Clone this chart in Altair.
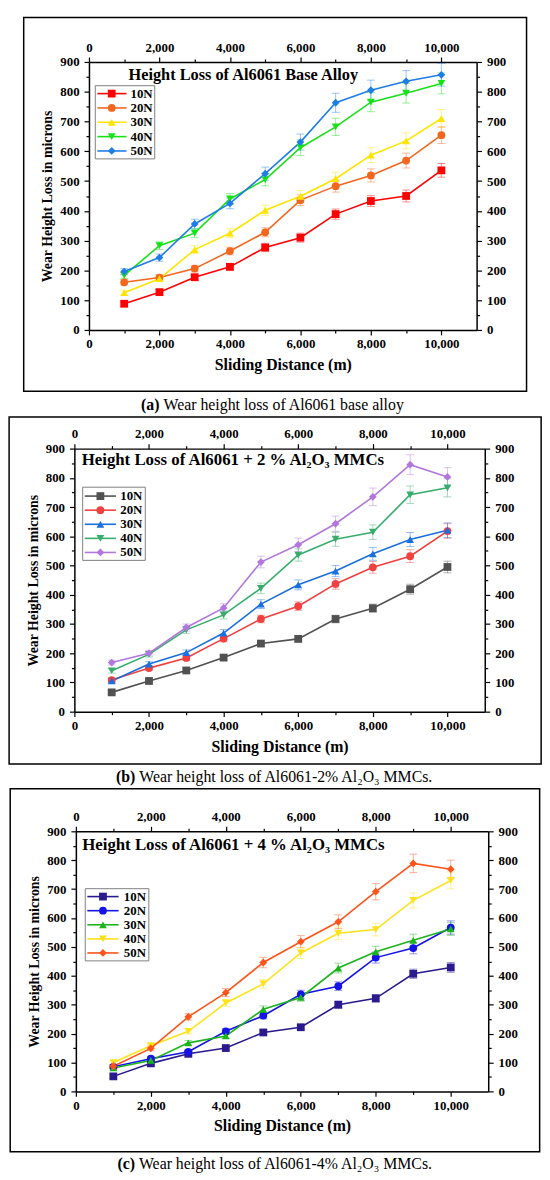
import altair as alt
import pandas as pd

FONT = "Liberation Serif"

dist = [1000, 2000, 3000, 4000, 5000, 6000, 7000, 8000, 9000, 10000]
loads = ["10N", "20N", "30N", "40N", "50N"]
shapes = ["square", "circle", "triangle-up", "triangle-down", "diamond"]

major_x = [0, 2000, 4000, 6000, 8000, 10000]
minor_x = [1000, 3000, 5000, 7000, 9000]
major_y = [0, 100, 200, 300, 400, 500, 600, 700, 800, 900]
minor_y = [50, 150, 250, 350, 450, 550, 650, 750, 850]

# (a) Base alloy
a_10 = [88, 127, 177, 212, 277, 310, 389, 433, 450, 536]
a_20 = [160, 176, 206, 265, 328, 436, 483, 519, 569, 654]
a_30 = [125, 172, 270, 325, 402, 449, 508, 587, 635, 710]
a_40 = [183, 283, 325, 440, 505, 612, 682, 765, 795, 828]
a_50 = [196, 243, 356, 425, 525, 631, 763, 805, 835, 857]
a_e10 = [8, 9, 10, 11, 14, 15, 17, 18, 20, 23]
a_e20 = [9, 10, 11, 13, 15, 18, 20, 22, 25, 28]
a_e30 = [8, 10, 13, 15, 17, 19, 22, 25, 27, 30]
a_e40 = [10, 13, 14, 18, 21, 26, 29, 32, 33, 35]
a_e50 = [10, 12, 16, 18, 22, 27, 32, 34, 36, 38]
a_colors = ["#FF0000", "#F2661E", "#FFE400", "#17E117", "#1F7DE6"]

# (b) 2 % Al2O3
b_10 = [66, 105, 141, 185, 233, 249, 317, 354, 419, 495]
b_20 = [108, 149, 184, 250, 317, 361, 437, 494, 532, 618]
b_30 = [105, 163, 202, 269, 368, 434, 481, 540, 589, 621]
b_40 = [140, 196, 280, 331, 422, 536, 590, 614, 742, 766]
b_50 = [168, 200, 288, 355, 512, 571, 643, 735, 845, 803]
b_e10 = [6, 7, 8, 9, 10, 10, 13, 14, 17, 20]
b_e20 = [7, 8, 9, 11, 13, 15, 18, 20, 22, 25]
b_e30 = [7, 8, 9, 12, 15, 17, 19, 22, 24, 25]
b_e40 = [8, 9, 12, 14, 18, 21, 24, 25, 30, 31]
b_e50 = [8, 9, 12, 14, 20, 23, 26, 30, 34, 32]
b_colors = ["#515151", "#F14040", "#1A6FDF", "#37AD6B", "#B177DE"]

# (c) 4 % Al2O3
c_10 = [52, 97, 130, 150, 204, 222, 300, 322, 407, 429]
c_20 = [85, 113, 137, 208, 262, 336, 364, 463, 496, 567]
c_30 = [81, 107, 168, 192, 284, 325, 427, 483, 523, 562]
c_40 = [100, 158, 208, 306, 372, 479, 547, 560, 661, 730]
c_50 = [87, 149, 258, 342, 446, 518, 587, 691, 789, 769]
c_e10 = [5, 6, 7, 7, 9, 9, 12, 13, 16, 17]
c_e20 = [6, 7, 7, 9, 11, 14, 15, 19, 20, 23]
c_e30 = [6, 7, 8, 9, 12, 13, 17, 19, 21, 22]
c_e40 = [6, 8, 9, 12, 15, 19, 22, 22, 26, 29]
c_e50 = [6, 8, 11, 14, 18, 21, 24, 28, 32, 31]
c_colors = ["#2A1A8E", "#1414E6", "#1DB31D", "#FFE21A", "#FF5319"]

titles = [
    "Height Loss of Al6061 Base Alloy",
    "Height Loss of Al6061 + 2 % Al\u2082O\u2083 MMCs",
    "Height Loss of Al6061 + 4 % Al\u2082O\u2083 MMCs",
]
cap_letters = ["(a)", "(b)", "(c)"]
cap_texts = [
    "Wear height loss of Al6061 base alloy",
    "Wear height loss of Al6061-2% Al\u2082O\u2083 MMCs.",
    "Wear height loss of Al6061-4% Al\u2082O\u2083 MMCs.",
]

# layout (pixels relative to each plot area)
geo = [
    dict(W=392, H=271, box=(-66, 442.5, -45, 333), title=(40, 13, 16.5), leg_box=(6.4, 66.5, 24, 98),
         leg_rows=(32, 90), leg_line=(8.5, 38), leg_mark=23, leg_text=42, cap=(52.7, 22.7, 347)),
    dict(W=415, H=266, box=(-66, 472, -32, 319), title=(7.4, 12, 17), leg_box=(8.4, 71.7, 39, 113),
         leg_rows=(48, 105), leg_line=(10.5, 42), leg_mark=26.3, leg_text=46.4, cap=(42, 23.6, 332)),
    dict(W=417, H=263, box=(-66.4, 469, -43, 324), title=(6.4, 14, 17), leg_box=(9.5, 73.8, 58, 131),
         leg_rows=(66, 123), leg_line=(11.6, 43.2), leg_mark=27.4, leg_text=48.5, cap=(42, 21.8, 336)),
]


def make_df(vals, errs):
    rows = []
    for ld, vs, es in zip(loads, vals, errs):
        for d, v, e in zip(dist, vs, es):
            rows.append(dict(dist=d, value=v, lo=v - e, hi=v + e, load=ld))
    return pd.DataFrame(rows)


one = pd.DataFrame({"k": [0]})

AX = dict(labelFont=FONT, labelFontSize=13, labelFontWeight="bold", labelColor="black",
          tickColor="black", domainColor="black", domainWidth=1.5, tickWidth=1.2,
          grid=False, labelFlush=False, labelOverlap=False)
TT = dict(titleFont=FONT, titleFontWeight="bold", titleColor="black")


def panel(vals, errs, colors, title, cap_letter, cap_text, g):
    df = make_df(vals, errs)
    W, H = g["W"], g["H"]
    xs = alt.Scale(domain=[0, 11000], nice=False, zero=False)
    ys = alt.Scale(domain=[0, 900], nice=False, zero=False)
    cs = alt.Scale(domain=loads, range=colors)
    ss = alt.Scale(domain=loads, range=shapes)
    C = alt.Color("load:N", scale=cs, legend=None)
    S = alt.Shape("load:N", scale=ss, legend=None)

    x_bottom = alt.Axis(orient="bottom", values=major_x, format=",d", tickSize=5, labelPadding=3,
                        title="Sliding Distance (m)", titleFontSize=16, titlePadding=6, **AX, **TT)
    y_left = alt.Axis(orient="left", values=major_y, tickSize=5, labelPadding=5,
                      title="Wear Height Loss in microns", titleFontSize=14, titlePadding=5, **AX, **TT)
    X = alt.X("dist:Q", scale=xs, axis=x_bottom)
    Y = alt.Y("value:Q", scale=ys, axis=y_left)

    base = alt.Chart(df)
    rules = base.mark_rule(strokeWidth=1, opacity=0.45).encode(
        x=X, y=alt.Y("lo:Q", scale=ys, axis=y_left), y2="hi:Q", color=C)
    cap_lo = base.mark_tick(orient="horizontal", size=8, thickness=1, opacity=0.45).encode(
        x=X, y=alt.Y("lo:Q", scale=ys, axis=y_left), color=C)
    cap_hi = base.mark_tick(orient="horizontal", size=8, thickness=1, opacity=0.45).encode(
        x=X, y=alt.Y("hi:Q", scale=ys, axis=y_left), color=C)
    lines = base.mark_line(strokeWidth=1.6).encode(x=X, y=Y, color=C)
    points = base.mark_point(filled=True, size=62, opacity=1).encode(x=X, y=Y, color=C, shape=S)
    data_layer = alt.layer(rules, cap_lo, cap_hi, lines, points)

    def ax_layer(xaxis, yaxis):
        return base.mark_point(opacity=0).encode(
            x=alt.X("dist:Q", scale=xs, axis=xaxis),
            y=alt.Y("value:Q", scale=ys, axis=yaxis))

    minor_bl = ax_layer(
        alt.Axis(orient="bottom", values=minor_x, labels=False, domain=False, tickSize=3, title=None, **AX),
        alt.Axis(orient="left", values=minor_y, labels=False, domain=False, tickSize=3, title=None, **AX))
    major_tr = ax_layer(
        alt.Axis(orient="top", values=major_x, format=",d", tickSize=5, labelPadding=3, title=None, **AX),
        alt.Axis(orient="right", values=major_y, tickSize=5, labelPadding=5, title=None, **AX))
    minor_tr = ax_layer(
        alt.Axis(orient="top", values=minor_x, labels=False, domain=False, tickSize=3, title=None, **AX),
        alt.Axis(orient="right", values=minor_y, labels=False, domain=False, tickSize=3, title=None, **AX))

    bx0, bx1, by0, by1 = g["box"]
    box = alt.Chart(one).mark_rect(fill="white", fillOpacity=0, stroke="black", strokeWidth=1.5).encode(
        x=alt.value(bx0), x2=alt.value(bx1), y=alt.value(by0), y2=alt.value(by1))

    tx, ty, tfs = g["title"]
    title_mark = alt.Chart(one).mark_text(
        text=title, align="left", baseline="middle", font=FONT, fontSize=tfs,
        fontWeight="bold", color="black").encode(x=alt.value(tx), y=alt.value(ty))

    cx, coff, cy = g["cap"]
    cap1 = alt.Chart(one).mark_text(
        text=cap_letter, align="left", baseline="middle", font=FONT, fontSize=16,
        fontWeight="bold", color="black").encode(x=alt.value(cx), y=alt.value(cy))
    cap2 = alt.Chart(one).mark_text(
        text=cap_text, align="left", baseline="middle", font=FONT, fontSize=16,
        color="black").encode(x=alt.value(cx + coff), y=alt.value(cy))

    lb0, lb1, lby0, lby1 = g["leg_box"]
    leg_box = alt.Chart(one).mark_rect(fill="white", stroke="#808080", strokeWidth=1).encode(
        x=alt.value(lb0), x2=alt.value(lb1), y=alt.value(lby0), y2=alt.value(lby1))
    leg_df = pd.DataFrame({"load": loads, "row": [0, 1, 2, 3, 4]})
    LY = alt.Y("row:Q", scale=alt.Scale(domain=[0, 4], range=list(g["leg_rows"])), axis=None)
    l0, l1 = g["leg_line"]
    lbase = alt.Chart(leg_df)
    leg_line = lbase.mark_rule(strokeWidth=1.6).encode(x=alt.value(l0), x2=alt.value(l1), y=LY, color=C)
    leg_pt = lbase.mark_point(filled=True, size=62, opacity=1).encode(
        x=alt.value(g["leg_mark"]), y=LY, color=C, shape=S)
    leg_txt = lbase.mark_text(align="left", baseline="middle", font=FONT, fontSize=13,
                              fontWeight="bold", color="black").encode(
        x=alt.value(g["leg_text"]), y=LY, text="load:N")
    legend = alt.layer(leg_line, leg_pt, leg_txt)

    return alt.layer(
        box, data_layer, minor_bl, major_tr, minor_tr, leg_box, legend, title_mark, cap1, cap2
    ).resolve_scale(x="independent", y="independent").resolve_axis(
        x="independent", y="independent").properties(width=W, height=H)


pa = panel([a_10, a_20, a_30, a_40, a_50], [a_e10, a_e20, a_e30, a_e40, a_e50], a_colors,
           titles[0], cap_letters[0], cap_texts[0], geo[0])
pb = panel([b_10, b_20, b_30, b_40, b_50], [b_e10, b_e20, b_e30, b_e40, b_e50], b_colors,
           titles[1], cap_letters[1], cap_texts[1], geo[1])
pc = panel([c_10, c_20, c_30, c_40, c_50], [c_e10, c_e20, c_e30, c_e40, c_e50], c_colors,
           titles[2], cap_letters[2], cap_texts[2], geo[2])

chart = alt.vconcat(pa, pb, pc, spacing=3, center=True).resolve_scale(
    color="independent", shape="independent").properties(
    padding={"left": 0, "top": 2, "right": 0, "bottom": 0}).configure_view(strokeWidth=0)

chart.save("out.html", embed_options={"renderer": "svg", "actions": False})
